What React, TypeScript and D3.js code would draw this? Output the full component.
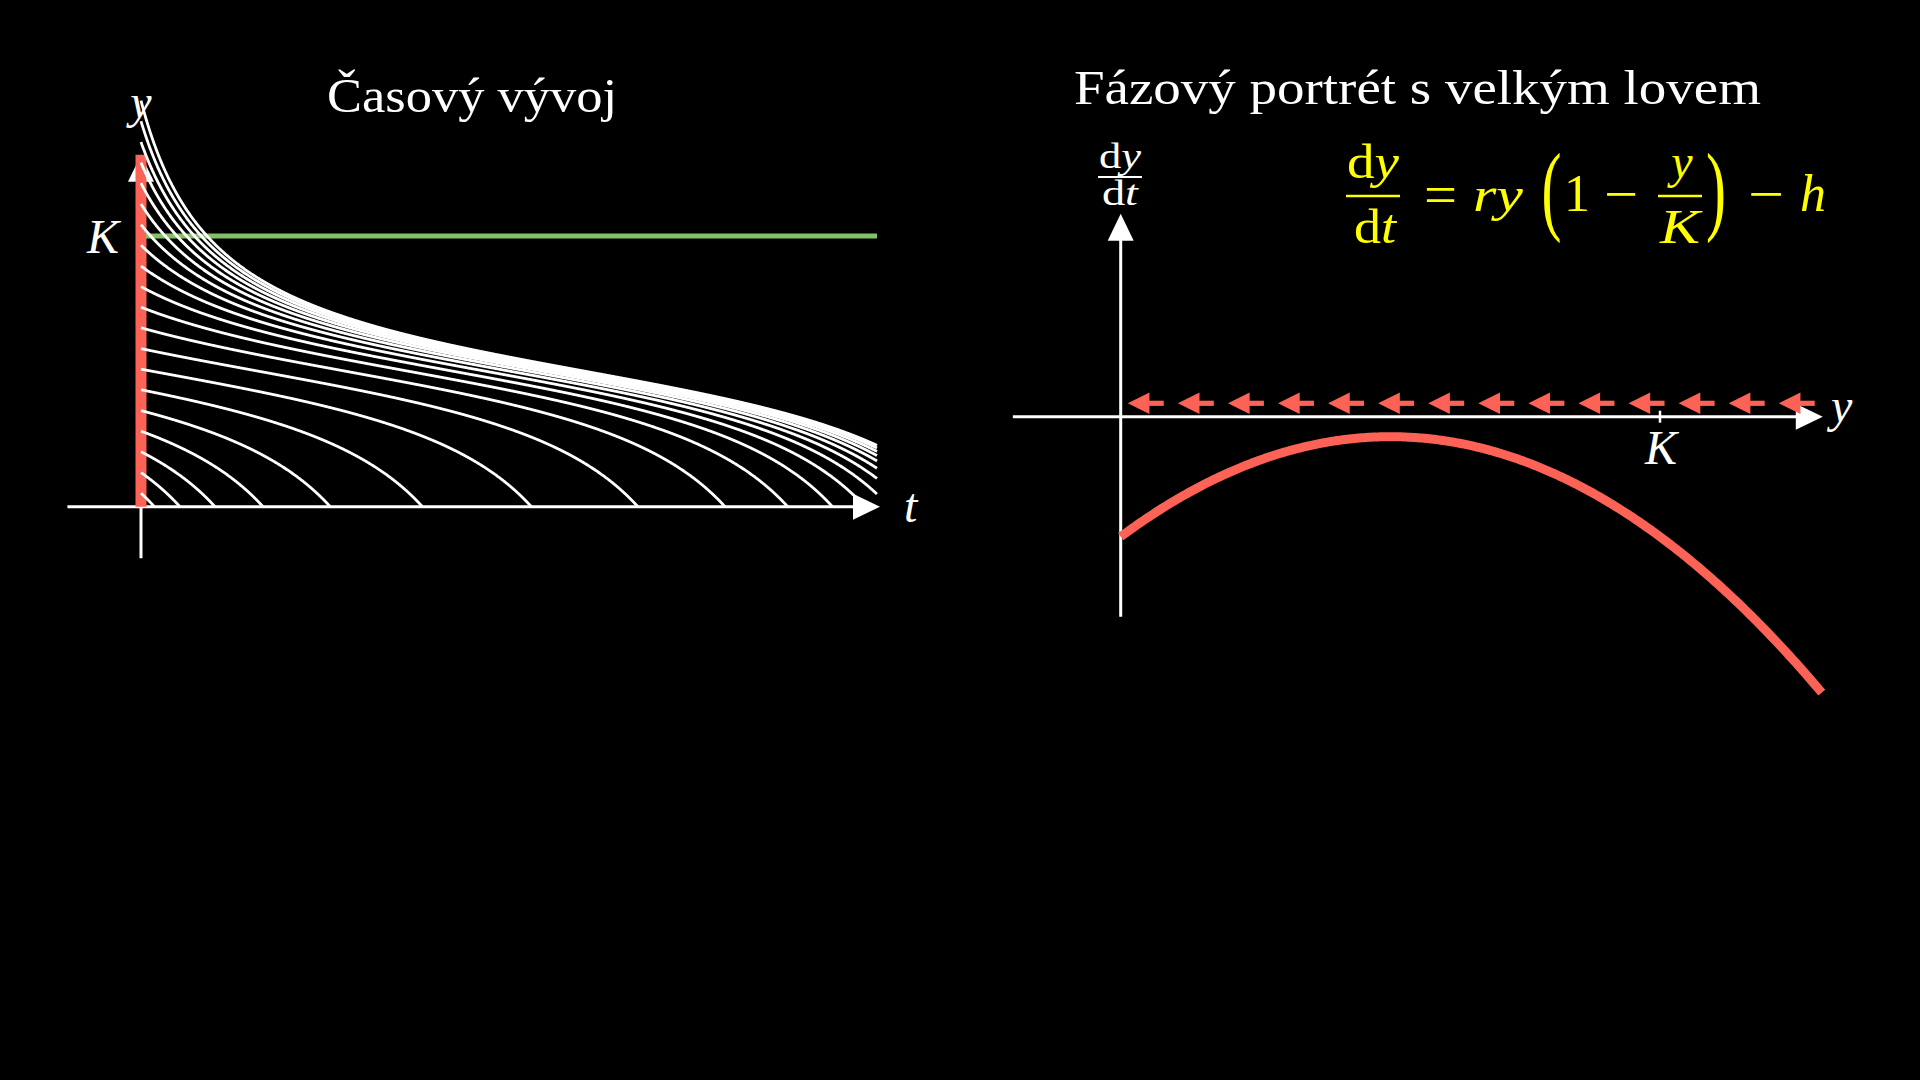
import React from "react";
import * as d3 from "d3";

// ---- model parameters (read from the phase portrait) ----
const growthRate = [1]; // r
const capacity = [1]; // K
const harvest = [0.3]; // h

// initial populations of the time-evolution curves (in units of K)
const initialValues = [
  0.05, 0.126, 0.203, 0.279, 0.355, 0.432, 0.508, 0.584, 0.661, 0.737,
  0.813, 0.889, 0.966, 1.042, 1.118, 1.195, 1.271, 1.347, 1.424, 1.5,
];

// axis ranges
const timeRange = [-1, 10];
const popRangeLeft = [-0.19, 1.3];
const popRangePhase = [-0.2, 1.3];
const rateRange = [-0.5, 0.5];
const arrowCount = [14];

const titles = ["Časový vývoj", "Fázový portrét s velkým lovem"];

const WHITE = "#FFFFFF";
const RED = "#FC6255";
const GREEN = "#83C167";
const YELLOW = "#FFFF00";
const SERIF = "'Liberation Serif', 'DejaVu Serif', serif";

const r = growthRate[0];
const K = capacity[0];
const h = harvest[0];
const f = (y: number) => r * y * (1 - y / K) - h;

function trajectory(y0: number, tMax: number) {
  const pts: [number, number][] = [[0, y0]];
  let y = y0;
  let t = 0;
  const dt = 0.005;
  while (t < tMax) {
    const k1 = f(y);
    const k2 = f(y + (dt / 2) * k1);
    const k3 = f(y + (dt / 2) * k2);
    const k4 = f(y + dt * k3);
    const yn = y + (dt / 6) * (k1 + 2 * k2 + 2 * k3 + k4);
    if (yn <= 0) {
      const frac = y / (y - yn);
      pts.push([t + frac * dt, 0]);
      return pts;
    }
    y = yn;
    t += dt;
    pts.push([Math.min(t, tMax), y]);
  }
  return pts;
}

export default function App() {
  // left chart scales
  const tL = d3.scaleLinear().domain([0, 10]).range([141, 877]);
  const yL = d3.scaleLinear().domain([0, 1]).range([506.7, 236]);
  // right chart scales
  const yR = d3.scaleLinear().domain([0, 1]).range([1120.7, 1660]);
  const fR = d3.scaleLinear().domain([0, 0.25]).range([416.7, 316.7]);

  const lineL = d3
    .line<[number, number]>()
    .x((d) => tL(d[0]))
    .y((d) => yL(d[1]))
    .curve(d3.curveLinear);

  const phaseYs = d3.range(0, popRangePhase[1] + 1e-9, popRangePhase[1] / 300);
  const lineR = d3
    .line<number>()
    .x((y) => yR(y))
    .y((y) => fR(f(y)));

  const axisW = 3;
  const headL = 27;
  const headH = 13;

  const xAxisLeftY = yL(0);
  const xTipL = tL(timeRange[1]) + 3;
  const yTopL = yL(popRangeLeft[1]);

  const xAxisRightY = fR(0);
  const xTipR = yR(popRangePhase[1]) + 1;
  const yTipR = fR(rateRange[1]) - 3;

  const n = arrowCount[0];
  const cell = popRangePhase[1] / n;
  const arrowCenters = d3.range(n).map((k) => yR((k + 0.5) * cell));
  const arrowY = xAxisRightY - 13.4;

  const fs = 48;

  return (
    <svg
      width={1920}
      height={1080}
      style={{ position: "absolute", left: 0, top: 0, display: "block" }}
    >
      <rect x={0} y={0} width={1920} height={1080} fill="#000" />

      {/* ---------------- Left: time evolution ---------------- */}
      <text
        x={472}
        y={112}
        fill={WHITE}
        fontFamily={SERIF}
        fontSize={48}
        textAnchor="middle"
        textLength={290}
        lengthAdjust="spacingAndGlyphs"
      >
        {titles[0]}
      </text>

      {/* axes */}
      <line
        x1={tL(timeRange[0])}
        x2={xTipL - headL + 2}
        y1={xAxisLeftY}
        y2={xAxisLeftY}
        stroke={WHITE}
        strokeWidth={axisW}
      />
      <path
        d={`M${xTipL},${xAxisLeftY} L${xTipL - headL},${xAxisLeftY - headH} L${xTipL - headL},${xAxisLeftY + headH} Z`}
        fill={WHITE}
      />
      <line
        x1={tL(0)}
        x2={tL(0)}
        y1={yL(popRangeLeft[0])}
        y2={yTopL + headL - 2}
        stroke={WHITE}
        strokeWidth={axisW}
      />
      <path
        d={`M${tL(0)},${yTopL} L${tL(0) - headH},${yTopL + headL} L${tL(0) + headH},${yTopL + headL} Z`}
        fill={WHITE}
      />

      {/* red line along y axis */}
      <line
        x1={tL(0)}
        x2={tL(0)}
        y1={yL(0)}
        y2={yL(popRangeLeft[1])}
        stroke={RED}
        strokeWidth={11}
      />

      {/* carrying capacity */}
      <line
        x1={tL(0) + 5}
        x2={tL(10)}
        y1={yL(K)}
        y2={yL(K)}
        stroke={GREEN}
        strokeWidth={5}
      />

      {/* solution curves */}
      {initialValues.map((y0, i) => (
        <path
          key={i}
          d={lineL(trajectory(y0, 10)) || ""}
          fill="none"
          stroke={WHITE}
          strokeWidth={2.8}
        />
      ))}

      {/* labels */}
      <text x={141} y={118} fill={WHITE} fontFamily={SERIF} fontStyle="italic" fontSize={48} textAnchor="middle">
        y
      </text>
      <text x={103} y={253} fill={WHITE} fontFamily={SERIF} fontStyle="italic" fontSize={48} textAnchor="middle">
        K
      </text>
      <text x={904} y={522} fill={WHITE} fontFamily={SERIF} fontStyle="italic" fontSize={48}>
        t
      </text>

      {/* ---------------- Right: phase portrait ---------------- */}
      <text
        x={1417.5}
        y={103.5}
        fill={WHITE}
        fontFamily={SERIF}
        fontSize={48}
        textAnchor="middle"
        textLength={687}
        lengthAdjust="spacingAndGlyphs"
      >
        {titles[1]}
      </text>

      {/* axes */}
      <line
        x1={yR(popRangePhase[0])}
        x2={xTipR - headL + 2}
        y1={xAxisRightY}
        y2={xAxisRightY}
        stroke={WHITE}
        strokeWidth={axisW}
      />
      <path
        d={`M${xTipR},${xAxisRightY} L${xTipR - headL},${xAxisRightY - headH} L${xTipR - headL},${xAxisRightY + headH} Z`}
        fill={WHITE}
      />
      <line
        x1={yR(0)}
        x2={yR(0)}
        y1={fR(rateRange[0])}
        y2={yTipR + headL - 2}
        stroke={WHITE}
        strokeWidth={axisW}
      />
      <path
        d={`M${yR(0)},${yTipR} L${yR(0) - headH},${yTipR + headL} L${yR(0) + headH},${yTipR + headL} Z`}
        fill={WHITE}
      />
      {/* K tick */}
      <line
        x1={yR(K)}
        x2={yR(K)}
        y1={xAxisRightY - 6}
        y2={xAxisRightY + 6}
        stroke={WHITE}
        strokeWidth={2.5}
      />

      {/* flow arrows */}
      {arrowCenters.map((cx, i) => (
        <g key={i} fill={RED}>
          <path
            d={`M${cx - 18},${arrowY} L${cx - 18 + 21.7},${arrowY - 10.8} L${cx - 18 + 21.7},${arrowY + 10.8} Z`}
          />
          <rect x={cx - 18 + 20} y={arrowY - 2.6} width={16} height={5.2} />
        </g>
      ))}

      {/* dy/dt curve */}
      <path
        d={lineR(phaseYs) || ""}
        fill="none"
        stroke={RED}
        strokeWidth={9}
      />

      {/* axis labels */}
      <text x={1831} y={422} fill={WHITE} fontFamily={SERIF} fontStyle="italic" fontSize={48}>
        y
      </text>
      <text x={1661} y={464} fill={WHITE} fontFamily={SERIF} fontStyle="italic" fontSize={48} textAnchor="middle">
        K
      </text>
      <g fill={WHITE} fontFamily={SERIF} fontSize={35} textAnchor="middle">
        <text x={1120} y={168} textLength={42} lengthAdjust="spacingAndGlyphs">
          d<tspan fontStyle="italic">y</tspan>
        </text>
        <line x1={1098} x2={1142} y1={177} y2={177} stroke={WHITE} strokeWidth={2} />
        <text x={1120} y={205} textLength={36} lengthAdjust="spacingAndGlyphs">
          d<tspan fontStyle="italic">t</tspan>
        </text>
      </g>

      {/* equation */}
      <g fill={YELLOW} fontFamily={SERIF} fontSize={fs}>
        <text x={1373} y={178} textAnchor="middle" textLength={52} lengthAdjust="spacingAndGlyphs">
          d<tspan fontStyle="italic">y</tspan>
        </text>
        <line x1={1346} x2={1400} y1={196} y2={196} stroke={YELLOW} strokeWidth={2.6} />
        <text x={1375} y={243} textAnchor="middle" textLength={42} lengthAdjust="spacingAndGlyphs">
          d<tspan fontStyle="italic">t</tspan>
        </text>
        <text x={1440.5} y={214} textAnchor="middle" fontSize={58} textLength={33} lengthAdjust="spacingAndGlyphs">=</text>
        <text x={1498} y={211} textAnchor="middle" fontStyle="italic" textLength={50} lengthAdjust="spacingAndGlyphs">ry</text>
        <text x={1551.5} y={222} textAnchor="middle" fontSize={100} transform="translate(1551.5,0) scale(0.6,1) translate(-1551.5,0)">(</text>
        <text x={1577} y={211} textAnchor="middle" fontSize={52}>1</text>
        <text x={1621} y={213} textAnchor="middle" fontSize={56} textLength={34} lengthAdjust="spacingAndGlyphs">−</text>
        <text x={1682} y={178} textAnchor="middle" fontStyle="italic">y</text>
        <line x1={1658} x2={1702} y1={196} y2={196} stroke={YELLOW} strokeWidth={2.6} />
        <text x={1680} y={243} textAnchor="middle" fontStyle="italic" textLength={40} lengthAdjust="spacingAndGlyphs">K</text>
        <text x={1716} y={222} textAnchor="middle" fontSize={100} transform="translate(1716,0) scale(0.6,1) translate(-1716,0)">)</text>
        <text x={1766} y={213} textAnchor="middle" fontSize={56} textLength={36} lengthAdjust="spacingAndGlyphs">−</text>
        <text x={1813} y={211} textAnchor="middle" fontStyle="italic" fontSize={52}>h</text>
      </g>
    </svg>
  );
}
